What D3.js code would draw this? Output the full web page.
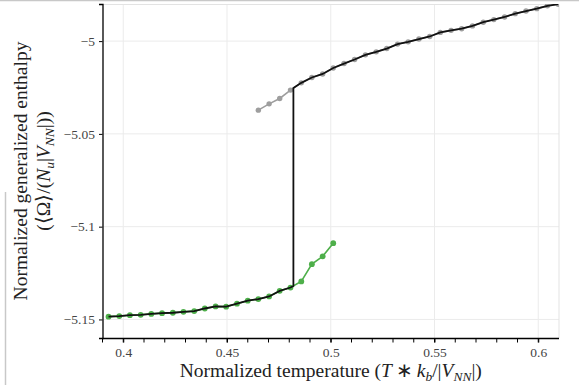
<!DOCTYPE html>
<html>
<head>
<meta charset="utf-8">
<script src="https://cdn.jsdelivr.net/npm/d3@7"></script>
<style>
  body { margin: 0; background: #fff; }
  svg { display: block; }
  .tick text { font-family: "Liberation Serif", serif; font-size: 13.5px; fill: #444; }
  .axis-title { font-family: "Liberation Serif", serif; font-size: 19.5px; fill: #222; }
</style>
</head>
<body>
<div class="chart"></div>
<script>
var svgWidth = 579;
var svgHeight = 385;

// plot box edges in pixels
var margin = { top: 4, right: 20, bottom: 47, left: 102.5 };
var width = svgWidth - margin.left - margin.right;
var height = svgHeight - margin.top - margin.bottom;

// upper (disordered) branch, grey
var upperTemp = [0.4651, 0.4703, 0.4754, 0.4806, 0.4858, 0.4909, 0.4961, 0.5012, 0.5064, 0.5115,
  0.5167, 0.5219, 0.5270, 0.5322, 0.5373, 0.5425, 0.5477, 0.5528, 0.5580, 0.5631,
  0.5683, 0.5735, 0.5786, 0.5838, 0.5889, 0.5941, 0.5993, 0.6044, 0.6096];
var upperOmega = [-5.0372, -5.0338, -5.0309, -5.0264, -5.0225, -5.0196, -5.0177, -5.0145, -5.0121, -5.0099,
  -5.0074, -5.0058, -5.0040, -5.0016, -5.0004, -4.9989, -4.9975, -4.9953, -4.9942, -4.9933,
  -4.9918, -4.9898, -4.9884, -4.9870, -4.9852, -4.9838, -4.9825, -4.9810, -4.9801];

// lower (ordered) branch, green
var lowerTemp = [0.3929, 0.3981, 0.4032, 0.4084, 0.4135, 0.4187, 0.4239, 0.4290, 0.4342, 0.4393,
  0.4445, 0.4496, 0.4548, 0.4600, 0.4651, 0.4703, 0.4754, 0.4806, 0.4858, 0.4909,
  0.4961, 0.5012];
var lowerOmega = [-5.1485, -5.1482, -5.1477, -5.1475, -5.1470, -5.1466, -5.1464, -5.1459, -5.1455, -5.1441,
  -5.1430, -5.1431, -5.1415, -5.1399, -5.1390, -5.1376, -5.1346, -5.1328, -5.1295, -5.1202,
  -5.1160, -5.1089];

// equilibrium curve (black): jump between branches
var transitionTemp = 0.4820;
var transitionLow = -5.1320;
var transitionHigh = -5.0252;

var xTicks = [0.4, 0.45, 0.5, 0.55, 0.6];
var xMinorTicks = [0.39, 0.40, 0.41, 0.42, 0.43, 0.44, 0.45, 0.46, 0.47, 0.48, 0.49,
  0.50, 0.51, 0.52, 0.53, 0.54, 0.55, 0.56, 0.57, 0.58, 0.59, 0.60];
var yTicks = [-5, -5.05, -5.1, -5.15];

var lowerData = lowerTemp.map((t, i) => ({ t: t, v: lowerOmega[i] }));
var upperData = upperTemp.map((t, i) => ({ t: t, v: upperOmega[i] }));
var eqData = lowerData.filter(d => d.t < transitionTemp)
  .concat([{ t: transitionTemp, v: transitionLow }, { t: transitionTemp, v: transitionHigh }])
  .concat(upperData.filter(d => d.t > transitionTemp));

var svg = d3.select(".chart")
  .append("svg")
  .attr("width", svgWidth)
  .attr("height", svgHeight);

// screenshot frame edges
svg.append("line")
  .attr("x1", 0).attr("x2", svgWidth).attr("y1", 0.5).attr("y2", 0.5)
  .attr("stroke", "#c8c8c8").attr("stroke-width", 1.5);
svg.append("line")
  .attr("x1", 5.5).attr("x2", 5.5).attr("y1", 192).attr("y2", svgHeight)
  .attr("stroke", "#c8c8c8").attr("stroke-width", 1.5);

var chartGroup = svg.append("g")
  .attr("transform", `translate(${margin.left}, ${margin.top})`);

var xScale = d3.scaleLinear().domain([0.39, 0.61]).range([0, width]);
var yScale = d3.scaleLinear().domain([-5.16, -4.98]).range([height, 0]);

// grid
chartGroup.append("g").selectAll("line")
  .data(xTicks)
  .enter().append("line")
  .attr("x1", d => xScale(d)).attr("x2", d => xScale(d))
  .attr("y1", 0).attr("y2", height)
  .attr("stroke", "#ebebeb");
chartGroup.append("g").selectAll("line")
  .data(yTicks)
  .enter().append("line")
  .attr("x1", 0).attr("x2", width)
  .attr("y1", d => yScale(d)).attr("y2", d => yScale(d))
  .attr("stroke", "#ebebeb");
// light frame on top and right
chartGroup.append("path")
  .attr("d", `M0,0.5H${width}V${height}`)
  .attr("fill", "none")
  .attr("stroke", "#e3e3e3");

// curves
var line = d3.line().x(d => xScale(d.t)).y(d => yScale(d.v));

chartGroup.append("clipPath").attr("id", "plot-clip")
  .append("rect").attr("width", width).attr("height", height);

var plot = chartGroup.append("g").attr("clip-path", "url(#plot-clip)");

plot.append("path").datum(upperData)
  .attr("d", line).attr("fill", "none")
  .attr("stroke", "#9e9e9e").attr("stroke-width", 1.6);
plot.selectAll(".up-dot").data(upperData)
  .enter().append("circle").attr("class", "up-dot")
  .attr("cx", d => xScale(d.t)).attr("cy", d => yScale(d.v))
  .attr("r", 2.7).attr("fill", "#9e9e9e");

plot.append("path").datum(lowerData)
  .attr("d", line).attr("fill", "none")
  .attr("stroke", "#4eaf4a").attr("stroke-width", 1.6);
plot.selectAll(".low-dot").data(lowerData)
  .enter().append("circle").attr("class", "low-dot")
  .attr("cx", d => xScale(d.t)).attr("cy", d => yScale(d.v))
  .attr("r", 2.9).attr("fill", "#4eaf4a");

plot.append("path").datum(eqData)
  .attr("d", line).attr("fill", "none")
  .attr("stroke", "#111").attr("stroke-width", 1.8);

// axes
var xAxisG = chartGroup.append("g")
  .attr("transform", `translate(0, ${height})`);
xAxisG.append("line")
  .attr("x1", 0).attr("x2", width).attr("y1", 0.5).attr("y2", 0.5)
  .attr("stroke", "#000").attr("stroke-width", 1.3);
xAxisG.selectAll(".minor").data(xMinorTicks)
  .enter().append("line").attr("class", "minor")
  .attr("x1", d => xScale(d)).attr("x2", d => xScale(d))
  .attr("y1", 0).attr("y2", 4.5)
  .attr("stroke", "#000");
xAxisG.call(d3.axisBottom(xScale).tickValues(xTicks).tickSize(4.5).tickSizeOuter(0).tickPadding(5)
  .tickFormat(d3.format("")))
  .call(g => g.select(".domain").remove());

var yAxisG = chartGroup.append("g");
yAxisG.call(d3.axisLeft(yScale).tickValues(yTicks).tickSize(3.5).tickSizeOuter(3.5).tickPadding(4)
  .tickFormat(d => d3.format("")(d).replace("-", "\u2212")))
  .call(g => g.select(".domain").attr("stroke-width", 1.3));

// axis titles with a bit of math markup
function mathText(sel, parts) {
  parts.forEach(function (p) {
    var ts = sel.append("tspan").text(p[0]);
    if (p[1] === "i") ts.attr("font-style", "italic");
    if (p[1] === "sub") ts.attr("font-style", "italic").attr("font-size", "13.5px").attr("dy", 4);
    if (p[2]) ts.attr("dy", p[2]);
  });
}

var xTitle = svg.append("text")
  .attr("class", "axis-title")
  .attr("x", margin.left + width / 2)
  .attr("y", 377)
  .attr("text-anchor", "middle");
mathText(xTitle, [
  ["Normalized temperature ("], ["T", "i"], ["\u2009\u2217\u2009"], ["k", "i"], ["b", "sub"],
  ["/|", null, -4], ["V", "i"], ["NN", "sub"], ["|)", null, -4]
]);

var yMid = margin.top + height / 2;
svg.append("text")
  .attr("class", "axis-title")
  .attr("transform", `translate(27, ${yMid}) rotate(-90)`)
  .attr("text-anchor", "middle")
  .text("Normalized generalized enthalpy");
var yTitle2 = svg.append("text")
  .attr("class", "axis-title")
  .attr("transform", `translate(50, ${yMid}) rotate(-90)`)
  .attr("text-anchor", "middle");
mathText(yTitle2, [
  ["(\u27E8\u03A9\u27E9/("], ["N", "i"], ["u", "sub"], ["|", null, -4], ["V", "i"], ["NN", "sub"],
  ["|))", null, -4]
]);
</script>
</body>
</html>
